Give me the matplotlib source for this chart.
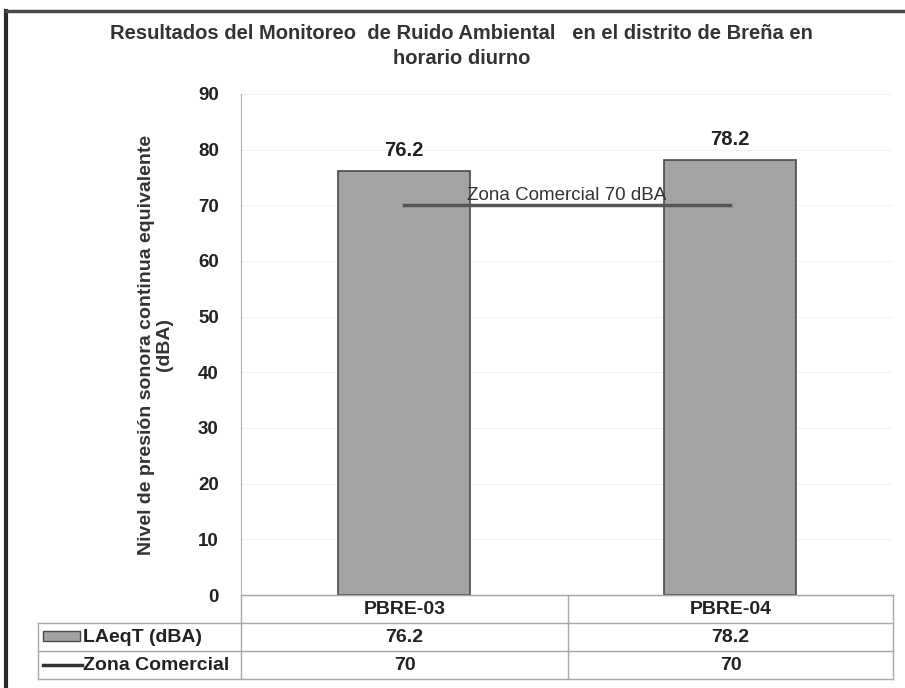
import matplotlib
matplotlib.use('Agg')
import matplotlib.pyplot as plt
from matplotlib.patches import Rectangle
from matplotlib.lines import Line2D

plt.rcParams['font.family'] = ['Liberation Sans', 'DejaVu Sans']
plt.rcParams['font.weight'] = 'bold'

# datos
estaciones = ["PBRE-03", "PBRE-04"]
laeqt = [76.2, 78.2]
zona_comercial = [70, 70]
serie_barras = "LAeqT (dBA)"
serie_linea = "Zona Comercial"
titulo = ("Resultados del Monitoreo  de Ruido Ambiental   en el distrito de Breña en\n"
          "horario diurno")
etiqueta_y = "Nivel de presión sonora continua equivalente\n(dBA)"
yticks = [0, 10, 20, 30, 40, 50, 60, 70, 80, 90]

W, H = 905, 688
fig = plt.figure(figsize=(W / 100, H / 100), dpi=100)
fig.patch.set_facecolor('white')


def fx(px):
    return px / W


def fy(py):
    return 1 - py / H


# marco exterior
fig.add_artist(Line2D([fx(6), fx(6)], [fy(11), fy(688)], color='#2a2a2a', linewidth=3,
                      transform=fig.transFigure))
fig.add_artist(Line2D([fx(6), fx(905)], [fy(11), fy(11)], color='#4a4a4a', linewidth=2.5,
                      transform=fig.transFigure))

izq, der, arriba, abajo = 241, 893, 94, 595
ax = fig.add_axes([fx(izq), fy(abajo), fx(der) - fx(izq), fy(arriba) - fy(abajo)])

x = list(range(len(estaciones)))
ax.bar(x, laeqt, width=0.405, color='#a3a3a3', edgecolor='#4a4a4a', linewidth=1.2, zorder=3)
ax.plot(x, zona_comercial, color='#555555', linewidth=2.5, zorder=4)

for xi, v in zip(x, laeqt):
    ax.annotate(f"{v:.1f}", (xi, v), xytext=(0, 8), textcoords='offset points',
                ha='center', va='bottom', fontsize=14.5, fontweight='bold', color='#222222')

ax.annotate(f"{serie_linea} 70 dBA", ((x[0] + x[-1]) / 2, zona_comercial[0]), xytext=(0, 1),
            textcoords='offset points', ha='center', va='bottom', fontsize=13.5,
            fontweight='normal', color='#333333', zorder=5)

ax.set_xlim(-0.5, len(estaciones) - 0.5)
ax.set_ylim(0, 90)
ax.set_yticks(yticks)
ax.set_yticklabels([str(t) for t in yticks], fontsize=13.5, fontweight='bold', color='#222222')
ax.tick_params(axis='y', length=0, pad=16)
ax.set_xticks([])
for t in yticks[1:]:
    ax.axhline(t, color='#f2f2f2', linewidth=0.8, zorder=0)
for s in ['top', 'right']:
    ax.spines[s].set_visible(False)
ax.spines['left'].set_color('#b0b0b0')
ax.spines['bottom'].set_color('#b0b0b0')
ax.set_ylabel(etiqueta_y, fontsize=14, fontweight='bold', color='#333333', labelpad=18,
              linespacing=1.05)

fig.text(0.51, fy(46), titulo, ha='center', va='center', fontsize=14.5, fontweight='bold',
         color='#333333', linespacing=1.35)

# tabla de datos
col_x = [38, 241, 568, 893]
fil_y = [595, 623, 651, 679]
gris = '#a8a8a8'


def linea(x0, y0, x1, y1):
    fig.add_artist(Line2D([fx(x0), fx(x1)], [fy(y0), fy(y1)], color=gris, linewidth=1,
                          transform=fig.transFigure))


linea(col_x[1], fil_y[0], col_x[3], fil_y[0])
for yy in fil_y[1:]:
    linea(col_x[0], yy, col_x[3], yy)
linea(col_x[0], fil_y[1], col_x[0], fil_y[3])
for xx in col_x[1:]:
    linea(xx, fil_y[0], xx, fil_y[3])

for j, est in enumerate(estaciones):
    cx = (col_x[j + 1] + col_x[j + 2]) / 2
    fig.text(fx(cx), fy((fil_y[0] + fil_y[1]) / 2), est, ha='center', va='center',
             fontsize=14, fontweight='bold', color='#222222')
    fig.text(fx(cx), fy((fil_y[1] + fil_y[2]) / 2), f"{laeqt[j]:.1f}", ha='center',
             va='center', fontsize=14, fontweight='bold', color='#222222')
    fig.text(fx(cx), fy((fil_y[2] + fil_y[3]) / 2), f"{zona_comercial[j]:g}", ha='center',
             va='center', fontsize=14, fontweight='bold', color='#222222')

# claves de leyenda en la tabla
fig.add_artist(Rectangle((fx(43), fy(641)), fx(37), 10 / H, transform=fig.transFigure,
                         facecolor='#a3a3a3', edgecolor='#4a4a4a', linewidth=1))
fig.add_artist(Line2D([fx(43), fx(82)], [fy(665), fy(665)], color='#333333', linewidth=2.5,
                      transform=fig.transFigure))
fig.text(fx(83), fy(637), serie_barras, ha='left', va='center', fontsize=14,
         fontweight='bold', color='#222222')
fig.text(fx(83), fy(665), serie_linea, ha='left', va='center', fontsize=14,
         fontweight='bold', color='#222222')

fig.savefig('out.png', dpi=100)
